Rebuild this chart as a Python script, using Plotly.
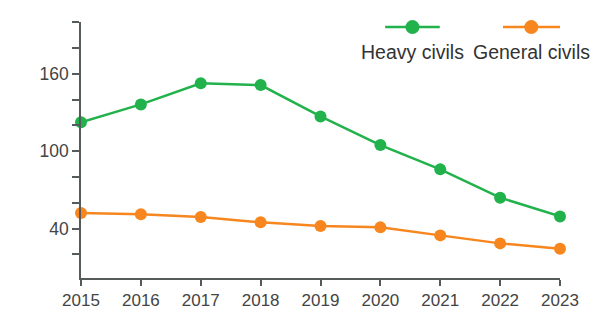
import plotly.graph_objects as go

years = [2015, 2016, 2017, 2018, 2019, 2020, 2021, 2022, 2023]
heavy_civils = [122.3, 136.2, 152.5, 151.2, 126.9, 104.7, 85.9, 64.0, 49.5]
general_civils = [52.1, 51.1, 49.0, 44.9, 42.0, 41.0, 34.8, 28.6, 24.5]
series_names = ["Heavy civils", "General civils"]
y_tick_vals = [40, 100, 160]

GREEN = "#22b24c"
ORANGE = "#f7861f"
AXIS = "#555a5a"
FONT = "Liberation Sans, Arial, Helvetica, sans-serif"

fig = go.Figure()
for name, vals, col in [(series_names[0], heavy_civils, GREEN), (series_names[1], general_civils, ORANGE)]:
    fig.add_trace(go.Scatter(x=years, y=vals, name=name, mode="lines+markers",
                             line=dict(color=col, width=2.5),
                             marker=dict(color=col, size=12),
                             cliponaxis=False, showlegend=False))

# legend drawn as symbol above text
legend_items = [(series_names[0], GREEN, 0.635, 0.749, 0.692),
                (series_names[1], ORANGE, 0.881, 1.0, 0.940)]
for name, col, xa, xb, xm in legend_items:
    fig.add_shape(type="line", xref="paper", yref="paper", x0=xa, x1=xb, y0=0.98, y1=0.98,
                  line=dict(color=col, width=2.5))
    fig.add_shape(type="circle", xref="paper", yref="paper", xsizemode="pixel", ysizemode="pixel",
                  xanchor=xm, yanchor=0.98, x0=-7, x1=7, y0=-7, y1=7,
                  fillcolor=col, line=dict(color=col, width=0))
    fig.add_annotation(text=name, xref="paper", yref="paper", x=xm, y=0.883,
                       showarrow=False, xanchor="center", yanchor="middle",
                       font=dict(family=FONT, size=19.5, color="#333"))

fig.update_layout(
    width=596, height=310,
    margin=dict(l=81, r=36, t=22, b=32, autoexpand=False),
    paper_bgcolor="white", plot_bgcolor="white",
    font=dict(family=FONT, size=17.5, color="#444"),
    xaxis=dict(range=[2015, 2023], tickvals=years, showgrid=False, zeroline=False,
               automargin=False, ticklabelstandoff=0,
               tickfont=dict(size=17),
               showline=True, linecolor=AXIS, linewidth=1.5,
               ticks="outside", ticklen=6, tickcolor=AXIS, tickwidth=1.5),
    yaxis=dict(range=[1.8, 200], tickvals=y_tick_vals, showgrid=False, zeroline=False,
               automargin=False,
               showline=True, linecolor=AXIS, linewidth=1.5,
               ticks="outside", ticklen=7, tickcolor=AXIS, tickwidth=1.5,
               minor=dict(tick0=0, dtick=20, ticks="outside", ticklen=7,
                          tickcolor=AXIS, tickwidth=1.5, showgrid=False)),
)
fig.write_html("out.html", config={"displayModeBar": False},
               post_script="document.body.style.margin='0px';document.body.style.overflow='hidden';")
